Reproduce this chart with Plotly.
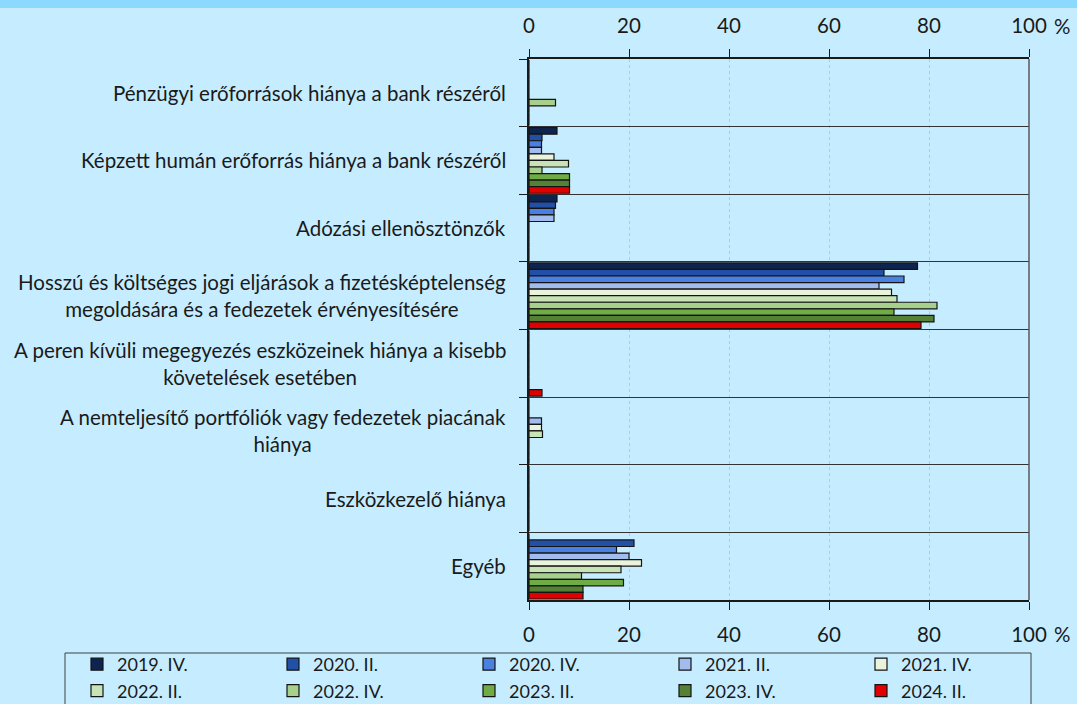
import plotly.graph_objects as go

categories = [
    "Pénzügyi erőforrások hiánya a bank részéről",
    "Képzett humán erőforrás hiánya a bank részéről",
    "Adózási ellenösztönzők",
    "Hosszú és költséges jogi eljárások a fizetésképtelenség<br>megoldására és a fedezetek érvényesítésére",
    "A peren kívüli megegyezés eszközeinek hiánya a kisebb<br>követelések esetében",
    "A nemteljesítő portfóliók vagy fedezetek piacának<br>hiánya",
    "Eszközkezelő hiánya",
    "Egyéb",
]

series_names = ["2019. IV.", "2020. II.", "2020. IV.", "2021. II.", "2021. IV.",
                "2022. II.", "2022. IV.", "2023. II.", "2023. IV.", "2024. II."]

s_2019_iv = [0, 5.6, 5.6, 77.7, 0, 0, 0, 0]
s_2020_ii = [0, 2.6, 5.3, 71.0, 0, 0, 0, 21.0]
s_2020_iv = [0, 2.5, 5.0, 75.0, 0, 0, 0, 17.5]
s_2021_ii = [0, 2.5, 5.0, 70.0, 0, 2.5, 0, 20.0]
s_2021_iv = [0, 5.0, 0, 72.5, 0, 2.5, 0, 22.5]
s_2022_ii = [0, 7.9, 0, 73.6, 0, 2.7, 0, 18.4]
s_2022_iv = [5.3, 2.6, 0, 81.6, 0, 0, 0, 10.5]
s_2023_ii = [0, 8.1, 0, 73.0, 0, 0, 0, 18.9]
s_2023_iv = [0, 8.1, 0, 81.0, 0, 0, 0, 10.8]
s_2024_ii = [0, 8.1, 0, 78.4, 2.6, 0, 0, 10.8]

series_values = [s_2019_iv, s_2020_ii, s_2020_iv, s_2021_ii, s_2021_iv,
                 s_2022_ii, s_2022_iv, s_2023_ii, s_2023_iv, s_2024_ii]

colors = ["#0E2450", "#2150A6", "#4A80E0", "#A2BCEE", "#EAF4DD",
          "#C8E3B5", "#A8D08D", "#6FAC46", "#548135", "#E00000"]

x_ticks = [0, 20, 40, 60, 80, 100]

FONT = "Lato"
L, R, T, B = 529, 48, 59, 104
W, H = 1077, 704
pw = W - L - R
ph = H - T - B

fig = go.Figure()
for name, vals, col in zip(series_names, series_values, colors):
    fig.add_trace(go.Bar(
        y=categories, x=vals, name=name, orientation="h",
        marker=dict(color=col, line=dict(color="#141414", width=1.2)),
    ))

# invisible trace for top axis
fig.add_trace(go.Scatter(x=[0, 100], y=[categories[0], categories[0]], xaxis="x2",
                         mode="markers", marker=dict(opacity=0), showlegend=False,
                         hoverinfo="skip"))

bg = "#C6EDFF"

annotations = []
for c in categories:
    annotations.append(dict(
        x=-21 / pw, xref="paper", y=c, yref="y", text=c, showarrow=False,
        xanchor="right", yanchor="middle", align="center",
        font=dict(family=FONT, size=20.5, color="#1A1A1A"),
    ))
for yp in [1 + (T - 26) / ph, -(634 - (T + ph)) / ph]:
    annotations.append(dict(
        x=(1062 - L) / pw, xref="paper", y=yp, yref="paper", text="%",
        showarrow=False, xanchor="center", yanchor="middle",
        font=dict(family=FONT, size=20.5, color="#1A1A1A"),
    ))

shapes = [
    dict(type="rect", xref="paper", yref="paper",
         x0=-L / pw, x1=(W - L) / pw, y0=1 + (T - 8) / ph, y1=1 + T / ph,
         fillcolor="#8CD9FF", line=dict(width=0), layer="below"),
    dict(type="line", xref="paper", yref="paper", x0=1, x1=1, y0=0, y1=1,
         line=dict(color="#595959", width=1.5)),
    dict(type="rect", xref="paper", yref="paper",
         x0=(65 - L) / pw, x1=(1031 - L) / pw,
         y0=-(H + 5 - (T + ph)) / ph, y1=-(653 - (T + ph)) / ph,
         line=dict(color="#404040", width=1), fillcolor="rgba(0,0,0,0)"),
]

axis_common = dict(
    range=[0, 100], tickvals=x_ticks, ticks="outside", ticklen=8,
    tickcolor="#1A1A1A", showline=True, linecolor="#1A1A1A", linewidth=1.5,
    tickfont=dict(family=FONT, size=20.5, color="#1A1A1A"), zeroline=False,
)

fig.update_layout(
    width=W, height=H,
    margin=dict(l=L, r=R, t=T, b=B, pad=0, autoexpand=False),
    paper_bgcolor=bg, plot_bgcolor=bg,
    barmode="group", bargap=0.03, bargroupgap=0,
    xaxis=dict(**axis_common, side="bottom", showgrid=True, gridcolor="#BCC6CC",
               griddash="dot", gridwidth=1, ticklabelstandoff=8),
    xaxis2=dict(**axis_common, side="top", overlaying="x", matches="x",
                showgrid=False, ticklabelstandoff=8),
    yaxis=dict(autorange="reversed", showticklabels=False, tickson="boundaries",
               ticks="outside", ticklen=8, tickcolor="#1A1A1A", showline=True,
               linecolor="#1A1A1A", linewidth=1.5, showgrid=True,
               gridcolor="#333333", gridwidth=1),
    showlegend=True,
    legend=dict(orientation="h", x=(77 - L) / pw, xanchor="left",
                y=-(646 - (T + ph)) / ph, yanchor="top",
                entrywidth=151, entrywidthmode="pixels", itemwidth=30,
                font=dict(family=FONT, size=18, color="#1A1A1A"),
                bgcolor="rgba(0,0,0,0)", tracegroupgap=0),
    annotations=annotations,
    shapes=shapes,
)

fig.write_html(
    "out.html",
    config={"displayModeBar": False},
    post_script="document.body.style.margin='0';document.body.style.padding='0';"
                "document.body.style.overflow='hidden';",
)
